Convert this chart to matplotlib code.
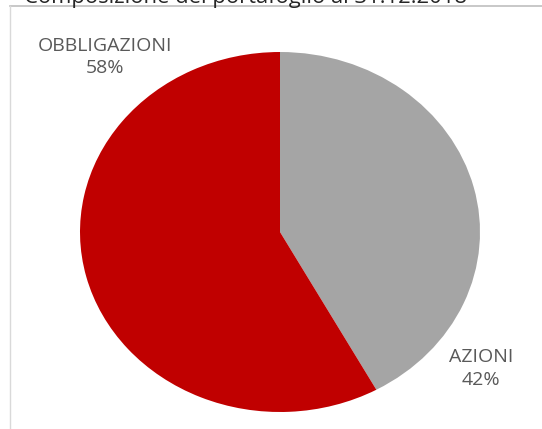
import matplotlib.pyplot as plt
from matplotlib.lines import Line2D

# data
labels = ['AZIONI', 'OBBLIGAZIONI']
values = [42, 58]
colors = ['#A5A5A5', '#C00000']
title = 'Composizione del portafoglio al 31.12.2018'

fig = plt.figure(figsize=(5.42, 4.29), dpi=100)

# chart border (only top and left visible)
fig.add_artist(Line2D([10/542, 1], [1 - 5.5/429, 1 - 5.5/429], color='#BFBFBF', lw=1.2))
fig.add_artist(Line2D([10/542, 10/542], [0, 1 - 5.5/429], color='#D9D9D9', lw=1))

# title cut off at top, as in the reference
fig.text(24/542, 1 - 3.5/429, title, fontsize=15.8, color='#262626',
         family='Open Sans', ha='left', va='baseline')

# stretched pie: 400 x 360 px
ax = fig.add_axes([80/542, 17/429, 400/542, 360/429])
ax.pie(values, colors=colors, startangle=90, counterclock=False,
       wedgeprops=dict(linewidth=0))
ax.set_aspect('auto')
ax.set_xlim(-1, 1)
ax.set_ylim(-1, 1)
ax.axis('off')

label_pos = [(1.005, -0.76), (-0.875, 0.972)]
for lab, v, (x, y) in zip(labels, values, label_pos):
    ax.text(x, y, '{}\n{}%'.format(lab, v), ha='center', va='center',
            fontsize=14, color='#595959', family='Open Sans',
            linespacing=1.35, clip_on=False)

fig.savefig('out.png', dpi=100)
